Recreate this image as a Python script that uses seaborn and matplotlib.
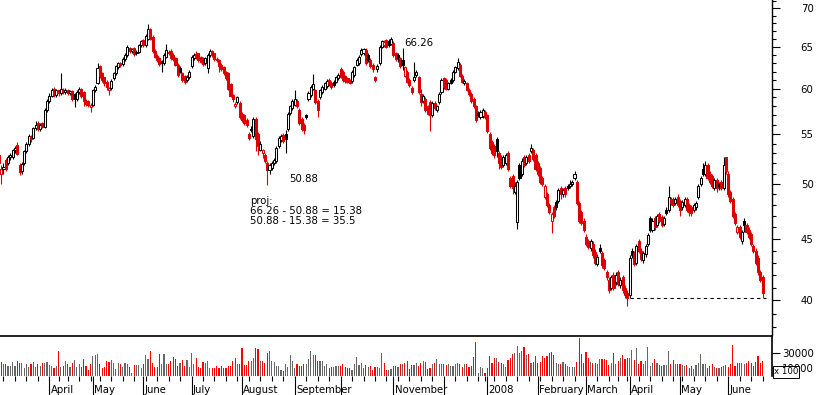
import numpy as np
import pandas as pd
import seaborn as sns
import matplotlib.pyplot as plt
import matplotlib.ticker as mticker
import matplotlib.transforms as mtransforms

# daily OHLC, 1 March 2007 - 23 June 2008 (Euronext trading days)
opens = [
    52.8, 51.0, 51.4, 52.3, 52.0, 52.6, 52.6, 53.3, 53.9, 51.8, 51.2, 52.0, 53.2, 54.0, 54.8, 54.6, 55.6, 56.2, 55.5, 56.2, 55.8, 57.6,
    58.6, 59.2, 60.0, 59.3, 59.8, 59.5, 59.9, 59.6, 59.8, 59.5, 59.7, 59.4, 58.8, 59.6, 60.0, 59.6, 58.6, 58.6, 57.9,
    58.2, 59.8, 60.6, 62.6, 61.8, 61.3, 60.8, 59.8, 60.1, 61.2, 61.8, 62.5, 63.0, 62.9, 63.5, 64.0, 64.8, 64.5, 64.8, 64.2, 64.4, 65.2,
    65.8, 65.2, 66.0, 67.2, 66.3, 64.5, 63.9, 63.6, 63.3, 63.0, 63.8, 64.4, 64.5, 64.0, 63.6, 62.8, 62.4, 61.8, 61.5, 61.0, 61.3,
    62.6, 63.6, 64.1, 64.2, 63.8, 63.6, 63.0, 62.4, 64.0, 64.5, 64.2, 63.5, 63.4, 62.8, 62.5, 62.0, 61.8, 60.5, 59.3, 58.0, 58.5, 58.4,
    57.2, 57.0, 56.5, 55.0, 55.4, 54.8, 56.6, 55.0, 53.4, 53.0, 52.8, 52.0, 51.3, 51.5, 52.0, 52.2, 53.8, 54.4, 54.9, 55.0, 55.5, 57.3, 57.8,
    58.2, 58.6, 57.6, 56.6, 56.0, 57.0, 58.8, 59.3, 60.0, 59.8, 58.6, 59.0, 59.6, 60.0, 60.3, 61.0, 60.7, 60.8, 60.8, 61.2,
    62.3, 62.0, 61.5, 61.2, 61.0, 60.9, 61.6, 62.8, 63.0, 64.1, 64.2, 64.6, 64.0, 63.4, 62.8, 61.3, 62.3, 63.0, 65.0, 65.2, 65.8, 65.7, 65.4,
    65.5, 64.2, 64.0, 63.6, 63.4, 61.5, 62.0, 61.0, 60.1, 61.0, 61.6, 61.3, 59.4, 58.6, 58.8, 58.0, 58.5, 57.0, 58.4, 57.6, 58.5, 59.6,
    61.2, 61.0, 60.0, 61.0, 61.0, 62.0, 62.4, 62.8, 61.5, 60.6, 60.6, 59.9, 59.4, 58.8, 58.0, 57.3, 56.8, 56.9, 57.4,
    57.0, 55.0, 54.2, 53.8, 54.5, 53.0, 52.6, 51.8, 52.0, 53.0, 50.6, 50.8, 49.2, 46.5, 51.8, 51.0, 52.6, 52.0, 52.8, 53.2, 53.4, 52.8,
    52.0, 51.5, 50.6, 48.8, 49.0, 48.0, 46.6, 47.8, 48.3, 48.4, 49.6, 49.0, 49.6, 49.8, 49.8, 50.0, 50.6, 50.2, 48.2, 47.4, 46.6,
    45.2, 44.8, 44.2, 44.6, 43.9, 42.9, 44.2, 43.8, 43.2, 42.2, 41.6, 41.0, 42.0, 41.4, 42.2, 41.2, 41.8, 41.0, 40.6,
    40.4, 44.0, 43.8, 43.0, 44.8, 44.0, 43.2, 43.7, 44.6, 46.8, 45.8, 46.8, 46.2, 47.2, 46.9, 46.3, 47.6, 47.6, 48.6, 48.6, 48.2, 48.8,
    48.4, 47.8, 48.0, 48.6, 48.0, 47.8, 47.6, 47.8, 48.8, 50.0, 51.4, 51.0, 51.8, 51.0, 50.8, 49.6, 50.4, 50.0, 50.2, 49.6, 52.6,
    51.0, 49.2, 48.6, 47.2, 45.6, 46.0, 44.8, 46.6, 46.2, 45.8, 45.4, 44.4, 44.0, 43.4, 42.2, 41.8,
]
highs = [
    53.2, 51.8, 52.0, 52.5, 52.8, 53.0, 53.5, 53.8, 54.2, 52.0, 52.1, 53.4, 54.2, 55.0, 54.9, 55.8, 56.4, 56.4, 56.2, 56.3, 57.8, 58.8,
    59.5, 60.1, 60.2, 60.0, 59.9, 61.8, 60.1, 60.1, 60.0, 59.9, 59.8, 59.5, 59.8, 60.2, 60.1, 59.7, 58.8, 58.7, 58.4,
    60.0, 60.4, 63.0, 62.8, 62.0, 61.4, 61.0, 60.2, 61.1, 62.0, 62.8, 63.2, 63.2, 63.7, 64.2, 65.2, 65.0, 64.9, 65.0, 64.6, 65.4, 65.9,
    66.0, 66.6, 67.9, 67.4, 66.5, 64.7, 64.1, 63.8, 63.4, 64.2, 65.3, 64.6, 64.7, 64.2, 63.8, 63.0, 62.6, 62.0, 61.6, 61.6, 62.2,
    64.0, 64.2, 64.5, 64.3, 63.9, 63.7, 63.8, 64.2, 64.7, 64.6, 64.3, 63.7, 63.5, 63.0, 62.6, 62.1, 61.9, 60.6, 59.4, 58.5, 59.2, 58.6,
    57.4, 57.2, 56.7, 55.2, 55.9, 56.8, 56.8, 55.2, 54.3, 53.5, 53.0, 52.2, 52.0, 52.2, 52.5, 53.8, 54.8, 55.0, 55.1, 55.4, 57.4, 58.2, 58.8,
    59.8, 58.8, 57.8, 56.8, 56.2, 57.2, 59.7, 60.4, 61.7, 60.0, 58.8, 60.0, 60.4, 60.8, 61.1, 61.2, 60.9, 61.0, 61.5, 61.8,
    62.5, 62.2, 61.6, 61.3, 61.1, 62.2, 62.7, 63.6, 64.0, 64.8, 64.9, 64.8, 64.2, 63.6, 63.0, 61.5, 62.9, 65.2, 65.9, 65.9, 66.0, 66.0, 66.26,
    65.7, 64.4, 64.2, 63.8, 64.8, 62.7, 62.2, 61.2, 60.3, 63.2, 62.2, 61.5, 60.0, 59.4, 59.0, 58.2, 58.7, 58.6, 58.6, 58.2, 59.6, 61.2,
    61.4, 61.2, 60.8, 61.2, 62.2, 62.7, 63.6, 63.0, 61.7, 61.1, 60.8, 60.1, 59.6, 59.0, 58.2, 57.5, 57.6, 57.8, 57.6,
    57.2, 55.2, 54.4, 54.0, 54.7, 53.2, 52.8, 52.8, 53.0, 53.2, 50.8, 51.0, 50.2, 50.4, 52.0, 52.5, 52.8, 52.8, 53.0, 54.0, 53.6, 53.0,
    52.2, 51.7, 50.8, 50.0, 49.2, 48.2, 47.4, 48.0, 48.5, 49.6, 49.8, 49.6, 49.8, 50.0, 50.4, 50.4, 51.2, 50.4, 48.4, 47.6, 46.8,
    45.4, 45.0, 45.0, 44.8, 44.1, 43.7, 44.6, 44.0, 43.4, 42.4, 41.8, 42.0, 42.2, 42.2, 42.4, 41.8, 42.0, 41.2, 40.8,
    43.6, 44.2, 44.0, 44.6, 45.0, 44.2, 44.0, 44.6, 45.5, 47.0, 46.8, 47.0, 47.2, 47.4, 47.1, 47.0, 47.8, 49.8, 48.8, 48.8, 48.8, 49.0,
    48.6, 48.5, 48.8, 48.8, 48.2, 48.0, 48.2, 48.4, 50.0, 50.8, 52.0, 52.2, 52.0, 51.2, 51.0, 50.6, 50.6, 50.2, 50.4, 52.6, 52.6,
    51.2, 49.4, 48.8, 47.4, 46.2, 46.2, 45.8, 46.8, 46.4, 46.0, 45.6, 44.6, 44.2, 43.6, 42.4, 42.0,
]
lows = [
    51.8, 50.0, 51.0, 51.2, 51.8, 52.3, 52.4, 53.0, 52.8, 50.9, 51.0, 51.8, 53.0, 53.8, 54.2, 54.5, 55.4, 55.3, 55.3, 55.6, 55.6, 57.4,
    58.4, 59.0, 59.0, 59.1, 59.2, 59.3, 59.4, 59.4, 59.3, 59.3, 58.6, 57.9, 58.6, 59.4, 58.9, 58.0, 58.0, 57.9, 57.4,
    58.0, 59.6, 60.5, 61.2, 60.8, 60.3, 59.9, 59.3, 59.9, 61.0, 61.6, 62.3, 62.5, 62.7, 63.3, 63.8, 64.2, 64.3, 63.9, 64.0, 64.2, 65.0,
    65.0, 65.0, 65.8, 65.8, 64.3, 63.6, 63.2, 62.7, 62.0, 62.8, 63.6, 64.0, 63.4, 63.3, 62.6, 61.4, 61.8, 60.8, 60.5, 60.8, 61.1,
    62.4, 63.4, 63.5, 63.2, 63.0, 62.7, 62.8, 61.8, 63.8, 63.8, 63.3, 63.2, 62.0, 62.1, 61.6, 61.0, 59.8, 59.0, 58.5, 57.8, 58.3, 56.6,
    56.3, 56.0, 55.8, 54.4, 55.2, 54.6, 53.2, 52.8, 53.2, 52.5, 52.0, 49.9, 51.0, 51.3, 51.8, 52.0, 53.6, 54.2, 54.1, 53.0, 55.3, 57.0, 57.6,
    58.0, 57.8, 56.0, 55.3, 55.0, 56.6, 58.6, 59.1, 59.8, 58.3, 56.8, 58.8, 59.4, 59.8, 60.1, 60.3, 60.0, 60.2, 60.6, 61.0,
    61.2, 60.8, 60.7, 60.6, 60.5, 60.7, 61.4, 62.6, 62.8, 63.9, 64.0, 62.8, 63.2, 62.4, 62.0, 60.8, 62.0, 62.8, 64.8, 65.0, 64.8, 65.0, 65.2,
    63.8, 63.3, 63.2, 62.4, 62.2, 61.3, 60.6, 60.2, 59.4, 60.8, 61.4, 59.4, 58.0, 58.4, 57.4, 57.0, 55.3, 56.8, 57.6, 57.4, 58.3, 59.4,
    60.0, 59.8, 59.8, 60.5, 60.8, 61.8, 62.2, 61.3, 60.6, 60.4, 59.7, 59.2, 58.4, 57.8, 56.3, 56.8, 56.6, 56.7, 56.6,
    55.1, 53.4, 52.8, 52.5, 52.6, 51.4, 51.4, 51.6, 51.8, 51.2, 49.6, 49.0, 49.0, 45.9, 50.4, 50.8, 51.6, 51.8, 52.0, 53.0, 52.2, 51.2,
    50.8, 50.0, 49.8, 48.6, 47.8, 47.2, 45.5, 46.8, 47.6, 48.2, 48.6, 48.8, 48.8, 49.4, 49.6, 49.8, 50.4, 48.0, 46.4, 46.2, 45.6,
    44.4, 44.1, 44.0, 43.4, 42.8, 42.7, 43.8, 42.6, 42.4, 41.6, 40.6, 40.8, 40.8, 41.2, 41.1, 41.0, 40.6, 40.2, 39.6,
    40.2, 43.4, 42.7, 42.8, 43.8, 43.1, 43.0, 43.5, 44.4, 45.6, 45.6, 45.8, 46.0, 46.4, 46.0, 46.1, 47.1, 47.4, 48.0, 47.8, 48.0, 47.8,
    47.0, 47.6, 47.8, 47.4, 47.0, 47.0, 47.4, 47.6, 48.6, 49.8, 50.8, 50.8, 50.4, 50.0, 49.6, 49.4, 49.2, 49.4, 49.4, 49.4, 51.0,
    48.8, 48.2, 46.8, 46.2, 45.4, 45.0, 44.6, 45.6, 45.4, 45.0, 44.4, 43.8, 42.8, 42.0, 41.4, 40.2,
]
closes = [
    52.0, 51.4, 51.6, 51.4, 52.6, 52.8, 53.3, 53.6, 52.9, 51.1, 51.9, 53.2, 54.0, 54.8, 54.5, 55.6, 56.0, 55.5, 56.0, 55.8, 57.6, 58.6,
    59.2, 59.9, 59.3, 59.8, 59.5, 60.0, 59.6, 59.9, 59.5, 59.7, 58.8, 58.8, 59.6, 60.0, 59.2, 58.6, 58.3, 58.2, 58.1,
    59.8, 60.2, 62.4, 61.5, 61.0, 60.6, 60.2, 60.1, 60.9, 61.8, 62.6, 63.0, 62.8, 63.5, 64.0, 65.0, 64.5, 64.7, 64.1, 64.4, 65.2, 65.7,
    65.2, 66.4, 67.2, 66.0, 64.5, 63.8, 63.4, 62.9, 63.0, 64.0, 64.6, 64.3, 63.6, 63.5, 62.8, 61.6, 62.0, 61.0, 60.8, 61.4, 62.0,
    63.8, 64.0, 63.7, 63.4, 63.2, 62.9, 63.6, 64.0, 64.5, 64.0, 63.5, 63.4, 62.6, 62.3, 61.8, 61.2, 60.0, 59.2, 58.8, 58.3, 59.0, 56.8,
    56.5, 56.2, 56.0, 54.6, 55.5, 56.6, 54.5, 53.8, 54.0, 53.3, 52.2, 51.3, 51.8, 52.0, 52.3, 53.6, 54.6, 54.8, 54.3, 54.5, 57.2, 58.0, 58.6,
    58.8, 58.0, 56.2, 55.5, 55.4, 56.8, 59.5, 60.2, 60.5, 58.5, 57.6, 59.8, 60.2, 60.6, 60.9, 60.5, 60.2, 60.4, 61.3, 61.6,
    61.4, 61.0, 60.9, 60.8, 60.7, 62.0, 62.5, 63.4, 63.8, 64.6, 64.7, 63.0, 63.4, 62.6, 62.3, 61.0, 62.7, 65.0, 65.7, 65.6, 65.0, 65.2, 66.0,
    64.0, 63.5, 63.6, 62.6, 62.8, 62.5, 60.8, 60.4, 59.6, 61.3, 62.0, 59.6, 58.5, 59.2, 57.6, 57.2, 57.0, 58.4, 57.8, 58.0, 59.4, 61.0,
    60.2, 60.0, 60.6, 60.7, 62.0, 62.5, 63.2, 61.5, 60.8, 60.9, 59.9, 59.4, 58.6, 58.0, 56.5, 57.0, 57.4, 57.6, 56.8,
    55.3, 53.6, 53.0, 52.8, 53.2, 52.0, 51.6, 52.6, 52.8, 51.4, 49.8, 49.6, 49.8, 50.2, 50.6, 52.2, 51.8, 52.6, 52.2, 53.6, 52.4, 51.4,
    51.0, 50.2, 50.0, 49.8, 48.0, 47.4, 47.2, 47.0, 47.8, 49.4, 49.0, 49.4, 49.0, 49.6, 50.0, 50.2, 51.0, 48.2, 46.6, 46.4, 45.8,
    44.6, 44.3, 44.8, 43.6, 43.0, 43.5, 44.0, 42.8, 42.6, 41.8, 40.8, 41.8, 41.0, 42.0, 41.3, 41.6, 40.8, 40.4, 40.2,
    43.4, 43.6, 42.9, 44.4, 44.0, 43.3, 43.8, 44.4, 45.3, 45.8, 46.6, 46.0, 47.0, 46.6, 46.2, 46.8, 47.3, 48.8, 48.2, 48.0, 48.6, 48.0,
    47.6, 48.3, 48.6, 47.6, 47.4, 47.3, 48.0, 48.2, 49.8, 50.6, 51.0, 51.8, 50.6, 50.2, 49.8, 50.4, 49.6, 49.8, 49.6, 51.8, 51.2,
    49.0, 48.4, 47.0, 46.4, 46.0, 45.2, 45.6, 46.2, 45.6, 45.2, 44.6, 44.0, 43.0, 42.2, 41.6, 40.6,
]
# volume in units of 100 shares
volumes = [
    12200, 18300, 16100, 16100, 13100, 13100, 18300, 13100, 19600, 17400, 17400, 10900, 16100, 11800, 16100, 18300, 12200, 16100, 13100, 17400,
    17400, 18300, 14400, 13100, 10900, 13100, 32700, 12200, 13100, 19600, 16100, 11800, 17400, 20900, 12200, 16100, 12200, 22700, 13100, 7800,
    16100, 26200, 27500, 29200, 16100, 10900, 12200, 19600, 18300, 20900, 17400, 9600, 17400, 16100, 11800, 17400, 16100, 12200, 4400, 14400,
    14400, 14400, 10900, 16100, 27500, 22700, 32700, 17400, 12200, 12200, 29200, 16100, 29200, 16100, 15300, 19600, 24900, 22700, 13100, 17400,
    20900, 13100, 20900, 12200, 30500, 16100, 24000, 12200, 10900, 18300, 17400, 19600, 10900, 10900, 10900, 13100, 10000, 13100, 10900, 10900,
    13100, 13100, 19600, 23100, 15300, 16100, 37100, 14400, 14000, 19600, 19600, 23100, 37100, 34900, 19600, 19600, 17400, 30100, 32700, 19600,
    18300, 13100,
    13100, 7800, 6500, 16100, 12200, 27500, 19600, 10900, 16100, 13100, 13100, 15300, 16100, 22700, 32700, 27500, 27500, 19600, 19600, 19600,
    13100, 16100, 10900, 11800, 11800, 13100, 13100, 13100, 15300, 11800, 10000, 10000, 7400, 16100, 24900, 14400, 17400, 10000, 14400, 11800,
    13100, 7800, 11800, 11800, 10000, 30100, 17400, 7800, 7800, 9600, 13100, 13100, 12200, 15300, 15300, 17400, 19600, 8700, 14400, 14400,
    17400, 13100, 17400, 19600, 18300, 8700, 10000, 16100, 17400, 22700, 16100, 16100, 16100, 14400, 16100, 13100, 13100, 16100, 17400, 16100,
    11800, 16100, 15300, 11800, 13100, 25300, 44500, 4400, 12200, 10000, 4400, 10000, 26200, 16600, 24000, 24000, 18300, 17400, 15300, 12200,
    20900, 24000, 28300, 30500, 39200, 30500, 32700, 37900, 27000, 28300, 17400, 18300, 26200, 17400,
    18300, 26200, 24000, 26200, 30500, 31800, 27500, 17400, 15300, 16100, 18300, 16100, 13100, 11800, 12200, 12200, 18300, 49300, 29200, 17400,
    31400, 24000, 18300, 17400, 17400, 16100, 22700, 21800, 22700, 20500, 14000, 17400, 30500, 16100, 19600, 24000, 27500, 21800, 24000, 24000,
    34400, 20500, 36200, 16100, 19600, 15300, 19600, 38400, 13100, 17400, 21800, 17400, 14000, 13100, 14000, 14000, 32700, 15300, 20500, 16100,
    15300, 15300, 14000, 13100, 14000, 10900, 13100, 8700, 14000, 17400, 28300, 16100, 15300, 10900, 13100, 16100, 12200, 10000, 10900, 11800,
    13100, 14000, 11800, 16100, 40100, 13100, 17400, 17400, 17400, 16100, 17400, 19600, 17400, 13100, 18300, 26200, 17400, 19600,
]

holidays = ["2007-04-06", "2007-04-09", "2007-05-01", "2007-12-25", "2007-12-26",
            "2008-01-01", "2008-03-21", "2008-03-24", "2008-05-01"]
month_labels = ["April", "May", "June", "July", "August", "September", "", "November", "",
                "2008", "February", "March", "April", "May", "June"]
price_ticks = [40, 45, 50, 55, 60, 65, 70]
volume_ticks = [10000, 30000]
peak_label = "66.26"
trough_label = "50.88"
proj_lines = ["proj:", "66.26 - 50.88 = 15.38", "50.88 - 15.38 = 35.5"]
support_level = 40.2

RED = "#dc0000"

dates = pd.bdate_range("2007-03-01", "2008-06-23")
dates = dates[~dates.isin(pd.to_datetime(holidays))]
df = pd.DataFrame({"date": dates, "open": opens, "high": highs, "low": lows,
                   "close": closes, "volume": volumes})
df["day"] = np.arange(len(df))
prev = df["close"].shift(1).fillna(df["open"])
df["down"] = df["close"] < prev
df["kind"] = np.where(df["down"], "down", "up")
df["color"] = np.where(df["down"], RED, "black")
df["face"] = np.where(df["close"] > df["open"], "white", df["color"])

month_first = df.groupby(df["date"].dt.to_period("M"))["day"].min().iloc[1:]
week_first = df.groupby(df["date"].dt.to_period("W"))["day"].min()

sns.set_style("white")
plt.rcParams["font.family"] = ["DejaVu Sans"]
plt.rcParams["text.color"] = "black"
plt.rcParams["xtick.color"] = "black"
plt.rcParams["ytick.color"] = "black"
plt.rcParams["axes.edgecolor"] = "black"

W, H = 817, 395
fig = plt.figure(figsize=(W / 100, H / 100), dpi=100)


def px_axes(l, t, r, b):
    return fig.add_axes([l / W, 1 - b / H, (r - l) / W, (b - t) / H])


ax = px_axes(0, 0, 771.5, 335.5)
axv = px_axes(0, 335.5, 771.5, 376)
ax.patch.set_visible(False)
axv.patch.set_visible(False)
xlim = (0.48, 336.9)

# candles
ax.set_yscale("log")
ax.vlines(df["day"], df["low"], df["high"], colors=df["color"], lw=0.8, zorder=2)
body_lo = np.minimum(df["open"], df["close"])
body_h = np.maximum((df["close"] - df["open"]).abs(), 0.06)
ax.bar(df["day"], body_h, bottom=body_lo, width=0.9, color=df["face"],
       edgecolor=df["color"], linewidth=0.75, zorder=3)
ax.hlines(support_level, 275, 334.5, colors="black", lw=0.8,
          linestyles=(0, (3, 3)), zorder=4)

ax.set_xlim(*xlim)
ax.set_ylim(37.4, 71.1)
ax.set_xticks([])
ax.yaxis.tick_right()
ax.yaxis.set_major_locator(mticker.FixedLocator(price_ticks))
ax.yaxis.set_major_formatter(mticker.FixedFormatter([str(t) for t in price_ticks]))
ax.yaxis.set_minor_locator(mticker.FixedLocator([v for v in range(38, 72) if v % 5]))
ax.yaxis.set_minor_formatter(mticker.NullFormatter())
ax.tick_params(axis="y", which="major", direction="out", length=5.8, width=0.8,
               pad=24.5, labelsize=7.3, right=True)
ax.tick_params(axis="y", which="minor", direction="out", length=3.0, width=0.8,
               right=True)
for lab in ax.get_yticklabels():
    lab.set_horizontalalignment("right")
for side in ["left", "top", "bottom"]:
    ax.spines[side].set_visible(False)
ax.spines["right"].set_color("black")
ax.spines["right"].set_linewidth(1.0)

# annotations
ax.text(176.6, 65.5, peak_label, fontsize=7.3, va="center", ha="left")
ax.text(126.4, 50.5, trough_label, fontsize=7.3, va="center", ha="left")
for txt, p in zip(proj_lines, [48.4, 47.45, 46.55]):
    ax.text(109.4, p, txt, fontsize=7.3, va="center", ha="left")

# volume
sns.barplot(data=df, x="day", y="volume", hue="kind", native_scale=True,
            palette={"up": "#666666", "down": "#ff0000"}, width=0.5,
            dodge=False, legend=False, errorbar=None, saturation=1,
            linewidth=0, ax=axv)
axv.set_xlim(*xlim)
axv.set_ylim(0, 53000)
axv.set_xlabel("")
axv.set_ylabel("")
axv.yaxis.tick_right()
axv.yaxis.set_major_locator(mticker.FixedLocator(volume_ticks))
axv.yaxis.set_major_formatter(mticker.FixedFormatter([str(t) for t in volume_ticks]))
axv.tick_params(axis="y", direction="out", length=5.8, width=0.8, pad=24.5,
                labelsize=7.3, right=True)
for lab in axv.get_yticklabels():
    lab.set_horizontalalignment("right")
axv.xaxis.set_major_locator(mticker.FixedLocator(month_first.values))
axv.xaxis.set_major_formatter(mticker.NullFormatter())
axv.xaxis.set_minor_locator(mticker.FixedLocator(week_first.values))
axv.tick_params(axis="x", which="major", direction="out", length=14, width=0.8,
                bottom=True)
axv.tick_params(axis="x", which="minor", direction="out", length=3.6, width=0.8,
                bottom=True)
for side in ["left", "bottom"]:
    axv.spines[side].set_visible(False)
for side in ["right", "top"]:
    axv.spines[side].set_visible(True)
    axv.spines[side].set_color("black")
    axv.spines[side].set_linewidth(1.2)

trans = mtransforms.blended_transform_factory(axv.transData, axv.transAxes)
for d, lab in zip(month_first.values, month_labels):
    if lab:
        axv.text(d + 0.6, -0.41, lab, transform=trans, fontsize=7.3,
                 ha="left", va="baseline")

fig.text(774 / W, 1 - 372 / H, "x 100", fontsize=6.2, ha="left", va="center",
         bbox=dict(boxstyle="square,pad=0.12", fc="white", ec="black", lw=0.7))

fig.savefig("out.png", dpi=100)
